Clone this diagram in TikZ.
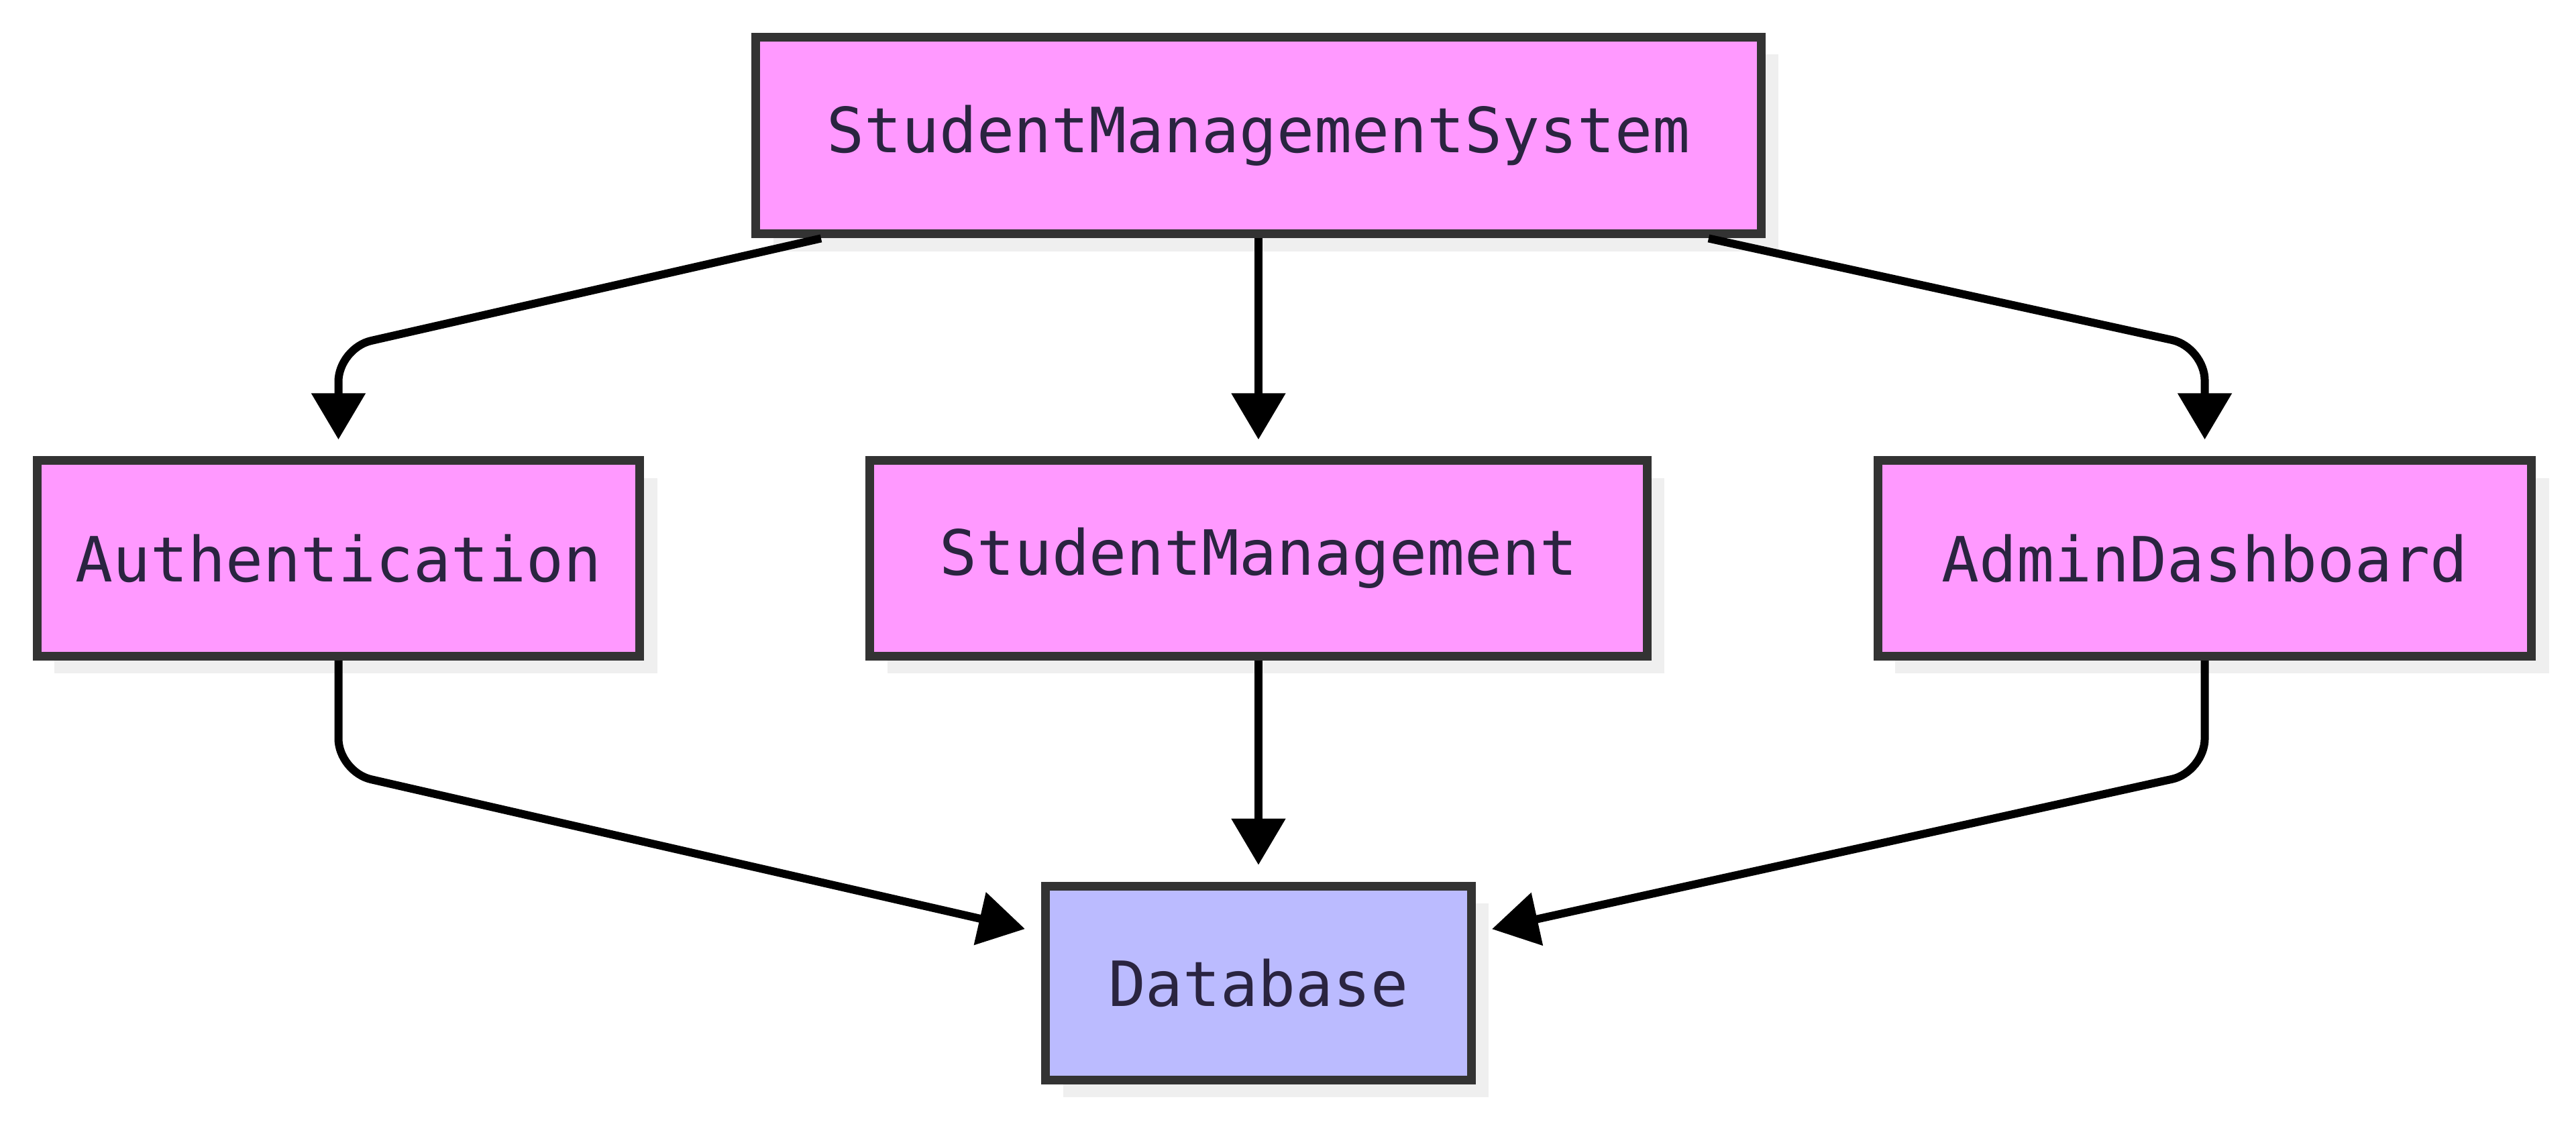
\documentclass[tikz,border=0pt]{standalone}
\usepackage{fontspec}
\newfontfamily\diagfont{DejaVu Sans Mono}
\usetikzlibrary{arrows.meta,shadows}
\definecolor{pinkfill}{HTML}{FF99FF}
\definecolor{bluefill}{HTML}{BBBBFF}
\definecolor{boxborder}{HTML}{333333}
\definecolor{shadowgray}{HTML}{EFEFEF}
\definecolor{textnavy}{RGB}{42,36,64}
\tikzset{
  box/.style={draw=boxborder, line width=1.3pt, rectangle, inner sep=0pt,
    font=\diagfont\fontsize{9.3pt}{11pt}\selectfont, text=textnavy,
    drop shadow={shadow xshift=2.6pt, shadow yshift=-2.6pt, fill=shadowgray, opacity=1}},
  pinkbox/.style={box, fill=pinkfill},
  bluebox/.style={box, fill=bluefill},
  link/.style={draw=black, line width=1.2pt, rounded corners=5pt,
    -{Triangle[width=7.8pt,length=6.9pt]}, shorten >=2.5pt}
}
\begin{document}
\begin{tikzpicture}[x=0.2449pt,y=-0.2449pt]
\useasboundingbox (0,0) rectangle (1568,683);
\node[pinkbox, minimum width=612*0.2449pt, minimum height=120*0.2449pt] (sms) at (766,82.5) {StudentManagementSystem};
\node[pinkbox, minimum width=367*0.2449pt, minimum height=119*0.2449pt] (auth) at (206,340) {Authentication};
\node[pinkbox, minimum width=473*0.2449pt, minimum height=119*0.2449pt] (sm) at (766,340) {StudentManagement};
\node[pinkbox, minimum width=398*0.2449pt, minimum height=119*0.2449pt] (ad) at (1342,340) {AdminDashboard};
\node[bluebox, minimum width=259*0.2449pt, minimum height=118*0.2449pt] (db) at (766,598.5) {Database};
\coordinate (c1) at (206,212);
\coordinate (c2) at (1342,211.4);
\coordinate (c3) at (206,470);
\coordinate (c4) at (1342,470);
\draw[link] ([xshift=-65.2pt]sms.south) -- (c1) -- (auth.north);
\draw[link] (sms.south) -- (sm.north);
\draw[link] ([xshift=67.1pt]sms.south) -- (c2) -- (ad.north);
\draw[link] (auth.south) -- (c3) -- ([yshift=7.5pt]db.west);
\draw[link] (sm.south) -- (db.north);
\draw[link] (ad.south) -- (c4) -- ([yshift=7.5pt]db.east);
\end{tikzpicture}
\end{document}
